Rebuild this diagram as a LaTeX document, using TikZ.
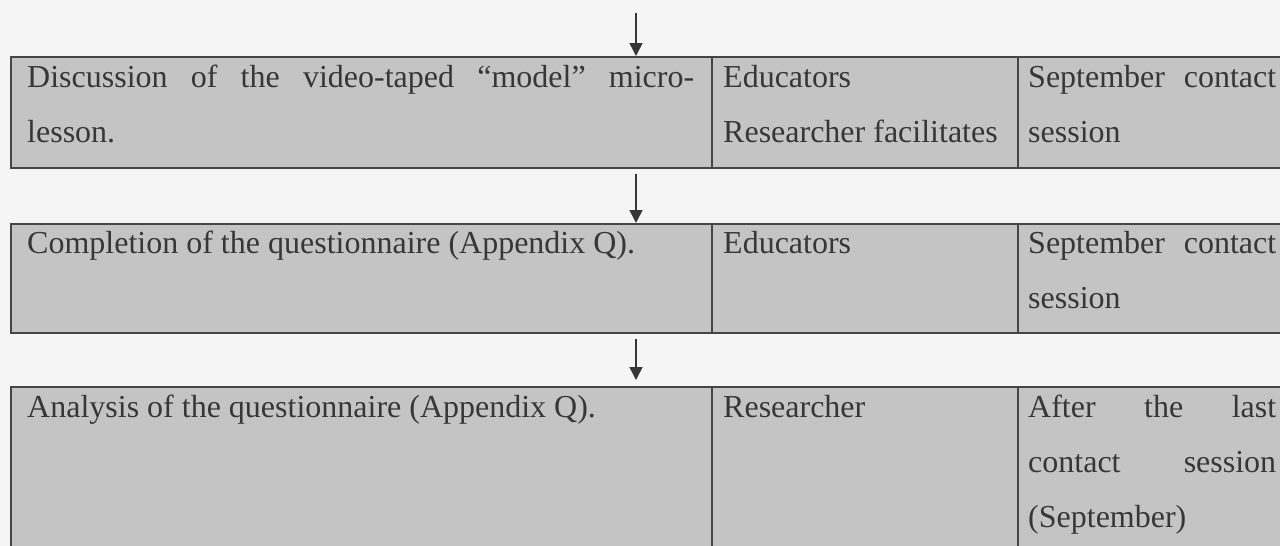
\documentclass[tikz,border=0pt]{standalone}
\usepackage{fontspec}
\setmainfont{Liberation Serif}
\usetikzlibrary{arrows.meta}
\definecolor{bg}{RGB}{245,245,245}
\definecolor{cellfill}{RGB}{196,196,196}
\definecolor{ink}{RGB}{55,55,55}
\definecolor{rulecol}{RGB}{70,70,70}
\begin{document}
\begin{tikzpicture}[x=1pt,y=-1pt,
  cell/.style={draw=rulecol, fill=cellfill, line width=1.6pt, rectangle,
    anchor=north west, inner sep=0pt, minimum height=#1},
  txt/.style={anchor=base west, inner sep=0pt, text=ink,
    font=\fontsize{32}{55}\selectfont, align=justify, text width=#1},
  flow/.style={draw=ink, line width=1.5pt, -{Triangle[length=13pt,width=13pt]}}
]
\useasboundingbox (0,0) rectangle (1280,546);
\fill[bg] (0,0) rectangle (1280,546);
\clip (0,0) rectangle (1280,546);

% row 1
\node[cell=111pt, minimum width=701pt] (r1a) at (10,56) {};
\node[cell=111pt, minimum width=306pt] (r1b) at (711,56) {};
\node[cell=111pt, minimum width=290pt] (r1c) at (1017,56) {};
% row 2
\node[cell=109pt, minimum width=701pt] (r2a) at (10,223) {};
\node[cell=109pt, minimum width=306pt] (r2b) at (711,223) {};
\node[cell=109pt, minimum width=290pt] (r2c) at (1017,223) {};
% row 3
\node[cell=200pt, minimum width=701pt] (r3a) at (10,386) {};
\node[cell=200pt, minimum width=306pt] (r3b) at (711,386) {};
\node[cell=200pt, minimum width=290pt] (r3c) at (1017,386) {};

% texts
\node[txt=667pt] (t1a) at ([xshift=17pt,yshift=-31pt]r1a.north west)
  {Discussion of the video-taped “model” micro-\linebreak lesson.};
\node[txt=285pt] (t1b) at ([xshift=12pt,yshift=-31pt]r1b.north west)
  {Educators\\Researcher facilitates};
\node[txt=248pt] (t1c) at ([xshift=11pt,yshift=-31pt]r1c.north west)
  {September contact\linebreak session};

\node[txt=667pt] (t2a) at ([xshift=17pt,yshift=-30pt]r2a.north west)
  {Completion of the questionnaire (Appendix Q).};
\node[txt=285pt] (t2b) at ([xshift=12pt,yshift=-30pt]r2b.north west)
  {Educators};
\node[txt=248pt] (t2c) at ([xshift=11pt,yshift=-30pt]r2c.north west)
  {September contact\linebreak session};

\node[txt=667pt] (t3a) at ([xshift=17pt,yshift=-31pt]r3a.north west)
  {Analysis of the questionnaire (Appendix Q).};
\node[txt=285pt] (t3b) at ([xshift=12pt,yshift=-31pt]r3b.north west)
  {Researcher};
\node[txt=248pt] (t3c) at ([xshift=11pt,yshift=-31pt]r3c.north west)
  {After the last\linebreak contact session\linebreak (September)};

% connectors
\coordinate (start) at (636,13);
\draw[flow] (start) -- (start |- r1a.north);
\draw[flow, shorten <=5pt] (start |- r1a.south) -- (start |- r2a.north);
\draw[flow, shorten <=5pt, shorten >=6pt] (start |- r2a.south) -- (start |- r3a.north);
\end{tikzpicture}
\end{document}
